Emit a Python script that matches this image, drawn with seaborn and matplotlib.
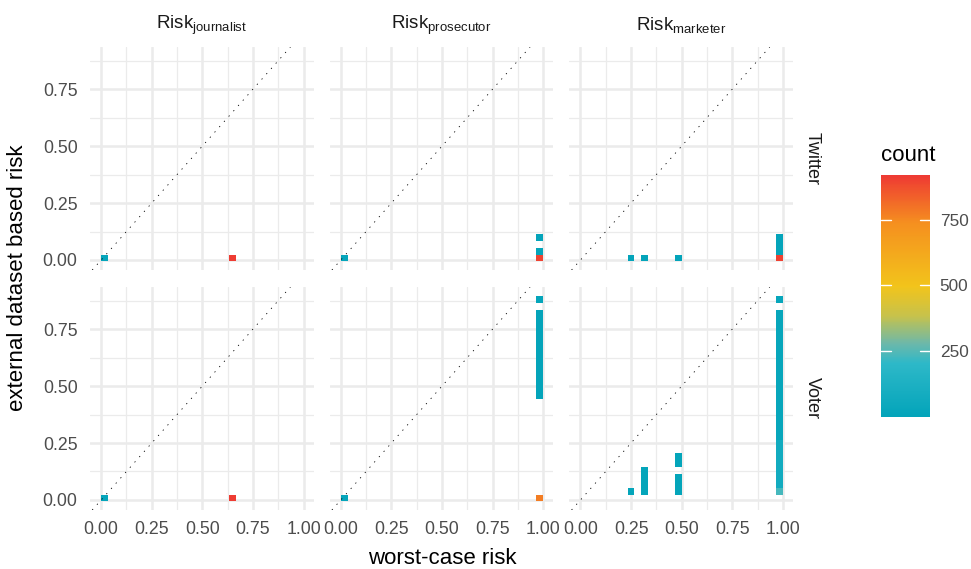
import numpy as np
import seaborn as sns
import matplotlib
matplotlib.use("Agg")
import matplotlib.pyplot as plt
from matplotlib.colors import LinearSegmentedColormap, Normalize
from matplotlib.cm import ScalarMappable
from matplotlib.ticker import MultipleLocator

sns.set_theme(style="whitegrid")
plt.rcParams["font.family"] = ["Liberation Sans", "DejaVu Sans"]
plt.rcParams["mathtext.fontset"] = "custom"
plt.rcParams["mathtext.rm"] = "Liberation Sans"
plt.rcParams["mathtext.it"] = "Liberation Sans:italic"

# Facets
risks = ["journalist", "prosecutor", "marketer"]
datasets = ["Twitter", "Voter"]

# Binned counts (x = worst-case risk, y = external dataset based risk)
tw_journalist_x = [0.02, 0.65]
tw_journalist_y = [0.01, 0.01]
tw_journalist_n = [14, 915]

tw_prosecutor_x = [0.02, 0.98, 0.98, 0.98]
tw_prosecutor_y = [0.01, 0.01, 0.04, 0.10]
tw_prosecutor_n = [14, 900, 8, 5]

tw_marketer_x = [0.25, 0.32, 0.48, 0.98, 0.98, 0.98, 0.98]
tw_marketer_y = [0.01, 0.01, 0.01, 0.01, 0.04, 0.07, 0.10]
tw_marketer_n = [4, 5, 6, 905, 8, 6, 5]

vo_journalist_x = [0.02, 0.65]
vo_journalist_y = [0.01, 0.01]
vo_journalist_n = [14, 915]

vo_prosecutor_x = [0.02, 0.98, 0.98, 0.98, 0.98, 0.98, 0.98, 0.98, 0.98,
                   0.98, 0.98, 0.98, 0.98, 0.98, 0.98, 0.98]
vo_prosecutor_y = [0.01, 0.01, 0.46, 0.49, 0.52, 0.55, 0.58, 0.61, 0.64,
                   0.67, 0.70, 0.73, 0.76, 0.79, 0.82, 0.88]
vo_prosecutor_n = [14, 775, 6, 6, 6, 6, 6, 6, 6,
                   6, 6, 6, 6, 6, 6, 10]

vo_marketer_x = [0.25, 0.32, 0.32, 0.32, 0.32, 0.48, 0.48, 0.48, 0.48, 0.48,
                 0.98, 0.98, 0.98, 0.98, 0.98, 0.98, 0.98, 0.98, 0.98, 0.98,
                 0.98, 0.98, 0.98, 0.98, 0.98, 0.98, 0.98, 0.98, 0.98, 0.98,
                 0.98, 0.98, 0.98, 0.98, 0.98, 0.98, 0.98, 0.98]
vo_marketer_y = [0.04, 0.04, 0.07, 0.10, 0.13, 0.04, 0.07, 0.10, 0.16, 0.19,
                 0.04, 0.07, 0.10, 0.13, 0.16, 0.19, 0.22, 0.25, 0.28, 0.31,
                 0.34, 0.37, 0.40, 0.43, 0.46, 0.49, 0.52, 0.55, 0.58, 0.61,
                 0.64, 0.67, 0.70, 0.73, 0.76, 0.79, 0.82, 0.88]
vo_marketer_n = [8, 8, 8, 8, 8, 8, 8, 8, 8, 8,
                 230, 75, 75, 75, 75, 75, 75, 75, 25, 25,
                 25, 25, 25, 25, 25, 25, 25, 25, 25, 25,
                 25, 25, 25, 25, 25, 25, 25, 20]

panels = {
    ("Twitter", "journalist"): (tw_journalist_x, tw_journalist_y, tw_journalist_n),
    ("Twitter", "prosecutor"): (tw_prosecutor_x, tw_prosecutor_y, tw_prosecutor_n),
    ("Twitter", "marketer"): (tw_marketer_x, tw_marketer_y, tw_marketer_n),
    ("Voter", "journalist"): (vo_journalist_x, vo_journalist_y, vo_journalist_n),
    ("Voter", "prosecutor"): (vo_prosecutor_x, vo_prosecutor_y, vo_prosecutor_n),
    ("Voter", "marketer"): (vo_marketer_x, vo_marketer_y, vo_marketer_n),
}

# bin grid (30 x 30)
x_edges = np.linspace(0.0, 1.0, 31)
y_edges = np.linspace(-0.006, 0.894, 31)

cmap = LinearSegmentedColormap.from_list(
    "risk",
    [(0.0, "#03a4ba"), (0.22, "#2db8c8"), (0.30, "#6bb8ab"), (0.42, "#c8c24a"),
     (0.54, "#f2c41b"), (0.80, "#f5901f"), (1.0, "#ee3a33")])
vmin, vmax = 0, 920

fig, axes = plt.subplots(2, 3, figsize=(9.71, 5.69), dpi=100, sharex=True, sharey=True)
fig.subplots_adjust(left=0.0927, right=0.8167, top=0.9174, bottom=0.1037,
                    wspace=0.0714, hspace=0.076)

for i, ds in enumerate(datasets):
    for j, rk in enumerate(risks):
        ax = axes[i, j]
        x, y, n = panels[(ds, rk)]
        sns.histplot(x=x, y=y, weights=n, bins=(x_edges, y_edges), cmap=cmap,
                     vmin=vmin, vmax=vmax, ax=ax)
        ax.axline((0, 0), slope=1, color="black", lw=0.6, ls=(0, (1.5, 7)), zorder=3)
        ax.set_xlim(-0.055, 1.05)
        ax.set_ylim(-0.044, 0.935)
        ax.set_xlabel("")
        ax.set_ylabel("")
        ax.xaxis.set_major_locator(MultipleLocator(0.25))
        ax.yaxis.set_major_locator(MultipleLocator(0.25))
        ax.xaxis.set_minor_locator(MultipleLocator(0.125))
        ax.yaxis.set_minor_locator(MultipleLocator(0.125))
        ax.grid(which="major", color="#ebebeb", lw=1.8)
        ax.grid(which="minor", color="#ebebeb", lw=0.9)
        ax.set_axisbelow(True)
        for s in ax.spines.values():
            s.set_visible(False)
        ax.tick_params(which="both", length=0, labelsize=12.8, labelcolor="#4d4d4d")
        ax.tick_params(axis="y", pad=9)
        ax.tick_params(axis="x", pad=8)
        ax.xaxis.set_major_formatter(lambda v, p: f"{v:.2f}")
        ax.yaxis.set_major_formatter(lambda v, p: f"{v:.2f}")
        if i == 0:
            ax.text(0.5, 1 + 22 / 223, r"$\mathrm{Risk}_{\mathrm{%s}}$" % rk,
                    transform=ax.transAxes, ha="center", va="center",
                    fontsize=13.5, color="#1a1a1a")
        if j == 2:
            ax.text(1 + 19 / 224, 0.5, ds, transform=ax.transAxes, rotation=270,
                    ha="center", va="center", fontsize=13, color="#1a1a1a")

fig.text(0.455, 1 - 558 / 569, "worst-case risk", ha="center", va="center",
         fontsize=16, color="black")
fig.text(18 / 971, 1 - 278 / 569, "external dataset based risk", rotation=90,
         ha="center", va="center", fontsize=16, color="black")

# colour bar
cax = fig.add_axes([881 / 971, 1 - 417 / 569, 49 / 971, 242 / 569])
cb = fig.colorbar(ScalarMappable(norm=Normalize(vmin, vmax), cmap=cmap), cax=cax)
cb.outline.set_visible(False)
cb.set_ticks([250, 500, 750])
cax.tick_params(length=0, pad=7, labelsize=12.4, labelcolor="#4d4d4d")
for v in [250, 500, 750]:
    cax.axhline(v, xmin=0, xmax=0.2, color="white", lw=1)
    cax.axhline(v, xmin=0.8, xmax=1, color="white", lw=1)
cax.text(0, 1 + 20 / 242, "count", transform=cax.transAxes, ha="left", va="center",
         fontsize=16, color="black")

fig.savefig("out.png", dpi=100, facecolor="white")
